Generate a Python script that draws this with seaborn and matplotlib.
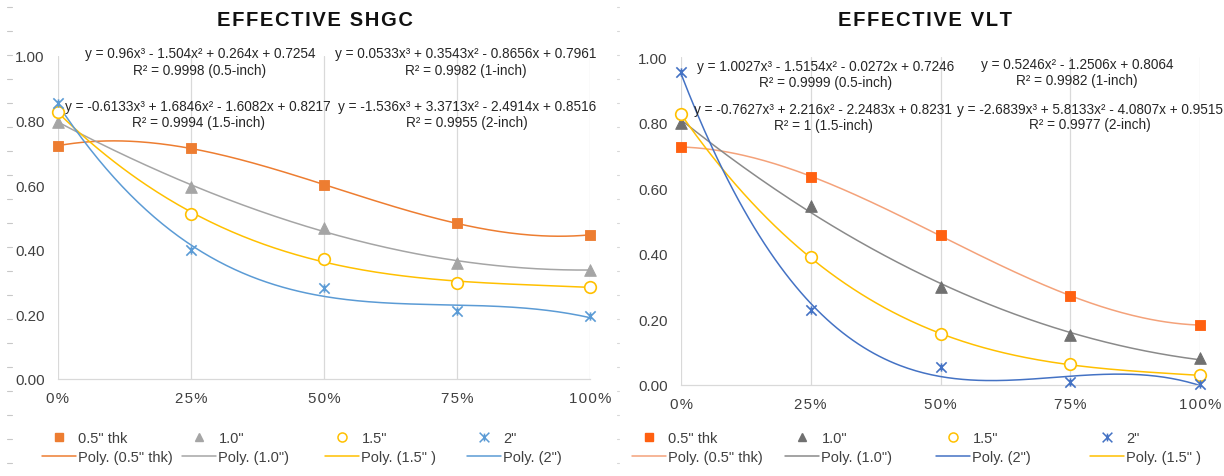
import matplotlib
matplotlib.use('Agg')
import matplotlib.pyplot as plt
from matplotlib.lines import Line2D
from matplotlib.path import Path
import numpy as np
import pandas as pd
import seaborn as sns

sns.set_style('white')
plt.rcParams['font.family'] = ['Liberation Sans', 'DejaVu Sans']

# glazing fraction on the x axis
glass_frac = [0.0, 0.25, 0.5, 0.75, 1.0]
x_tick_labels = ['0%', '25%', '50%', '75%', '100%']
y_ticks = [0.0, 0.2, 0.4, 0.6, 0.8, 1.0]

series_names = ['0.5" thk', '1.0"', '1.5"', '2"']
poly_names = ['Poly. (0.5" thk)', 'Poly. (1.0")', 'Poly. (1.5" )', 'Poly. (2")']

# effective SHGC
shgc_05 = [0.722, 0.715, 0.600, 0.483, 0.446]
shgc_10 = [0.797, 0.595, 0.466, 0.360, 0.339]
shgc_15 = [0.826, 0.512, 0.370, 0.298, 0.285]
shgc_20 = [0.854, 0.398, 0.281, 0.212, 0.194]
shgc_orders = [3, 3, 3, 3]

# effective VLT
vlt_05 = [0.726, 0.635, 0.457, 0.271, 0.183]
vlt_10 = [0.800, 0.546, 0.300, 0.153, 0.082]
vlt_15 = [0.825, 0.389, 0.155, 0.063, 0.029]
vlt_20 = [0.954, 0.230, 0.054, 0.008, 0.003]
vlt_orders = [3, 2, 3, 3]

shgc_eqs = [
    ('y = 0.96x³ - 1.504x² + 0.264x + 0.7254', 'R² = 0.9998 (0.5-inch)'),
    ('y = 0.0533x³ + 0.3543x² - 0.8656x + 0.7961', 'R² = 0.9982 (1-inch)'),
    ('y = -0.6133x³ + 1.6846x² - 1.6082x + 0.8217', 'R² = 0.9994 (1.5-inch)'),
    ('y = -1.536x³ + 3.3713x² - 2.4914x + 0.8516', 'R² = 0.9955 (2-inch)'),
]
vlt_eqs = [
    ('y = 1.0027x³ - 1.5154x² - 0.0272x + 0.7246', 'R² = 0.9999 (0.5-inch)'),
    ('y = 0.5246x² - 1.2506x + 0.8064', 'R² = 0.9982 (1-inch)'),
    ('y = -0.7627x³ + 2.216x² - 2.2483x + 0.8231', 'R² = 1 (1.5-inch)'),
    ('y = -2.6839x³ + 5.8133x² - 4.0807x + 0.9515', 'R² = 0.9977 (2-inch)'),
]

W, H = 1224, 477
fig = plt.figure(figsize=(W / 100, H / 100), dpi=100)

# excel-ish star marker (x with a short vertical bar)
star = Path([(-1, -1), (1, 1), (-1, 1), (1, -1), (0, -0.8), (0, 0.8)],
            [Path.MOVETO, Path.LINETO, Path.MOVETO, Path.LINETO, Path.MOVETO, Path.LINETO])

HS = '\u200a'


def spaced(s):
    return HS.join(list(s))


def px(x, y):
    return x / W, 1 - y / H


def draw_panel(ax, values, orders, mcols, lcols):
    df = pd.DataFrame({'frac': glass_frac * 4,
                       'value': sum(values, []),
                       'series': [n for n in series_names for _ in glass_frac]})
    grid = np.linspace(0, 1, 200)
    fits = []
    for name, vals, order in zip(series_names, values, orders):
        coef = np.polyfit(glass_frac, vals, order)
        fits.append(pd.DataFrame({'frac': grid, 'value': np.polyval(coef, grid), 'series': name}))
    fit_df = pd.concat(fits, ignore_index=True)
    sns.lineplot(data=fit_df, x='frac', y='value', hue='series',
                 palette=dict(zip(series_names, lcols)), legend=False,
                 errorbar=None, lw=1.1, ax=ax, clip_on=False)

    sub = df[df['series'] == series_names[0]]
    sns.scatterplot(data=sub, x='frac', y='value', marker='s', s=60, color=mcols[0],
                    edgecolor=mcols[0], ax=ax, clip_on=False, zorder=5)
    sub = df[df['series'] == series_names[1]]
    sns.scatterplot(data=sub, x='frac', y='value', marker='^', s=70, color=mcols[1],
                    edgecolor=mcols[1], ax=ax, clip_on=False, zorder=5)
    sub = df[df['series'] == series_names[2]]
    sns.scatterplot(data=sub, x='frac', y='value', marker='o', s=70, color='white',
                    edgecolor=mcols[2], linewidth=1.2, ax=ax, clip_on=False, zorder=5)
    sub = df[df['series'] == series_names[3]]
    sns.scatterplot(data=sub, x='frac', y='value', marker=star, s=55, color=mcols[3],
                    edgecolor=mcols[3], linewidth=1.2, ax=ax, clip_on=False, zorder=5)

    ax.set_xlim(0, 1)
    ax.set_ylim(0, 1)
    ax.set_xticks(glass_frac)
    ax.set_xticklabels([spaced(t) for t in x_tick_labels])
    ax.set_yticks(y_ticks)
    ax.set_yticklabels([f'{v:.2f}' for v in y_ticks])
    ax.set_xlabel('')
    ax.set_ylabel('')
    ax.tick_params(axis='both', length=0, labelsize=10.8, labelcolor='#404040')
    ax.tick_params(axis='y', pad=9.5)
    ax.tick_params(axis='x', pad=9)
    ax.grid(axis='x', color='#D9D9D9', lw=0.9)
    ax.grid(axis='y', visible=False)
    for side in ['top', 'left', 'right']:
        ax.spines[side].set_visible(False)
    ax.spines['bottom'].set_color('#D9D9D9')
    ax.spines['bottom'].set_linewidth(0.9)


def marker_handle(kind, color):
    if kind == 'o':
        return Line2D([], [], ls='none', marker='o', ms=6.5, mfc='white', mec=color, mew=1.1)
    if kind == 'star':
        return Line2D([], [], ls='none', marker=star, ms=7, mfc='none', mec=color, mew=1.1)
    return Line2D([], [], ls='none', marker=kind, ms=6, mfc=color, mec=color)


def legend_col(x, mh, ml, lh, ll):
    fig.legend([mh, lh], [ml, ll], loc='upper left', bbox_to_anchor=px(x, 432),
               frameon=False, fontsize=10.5, labelcolor='#404040',
               handlelength=2.35, handletextpad=0.15, borderpad=0,
               borderaxespad=0, labelspacing=0.35)


# ---- left: SHGC ----
ax1 = fig.add_axes([58 / W, 1 - 380 / H, (590 - 58) / W, (380 - 57) / H])
shgc_m = ['#ED7D31', '#A5A5A5', '#FFC000', '#5B9BD5']
shgc_l = ['#ED7D31', '#A5A5A5', '#FFC000', '#5B9BD5']
draw_panel(ax1, [shgc_05, shgc_10, shgc_15, shgc_20], shgc_orders, shgc_m, shgc_l)

# ---- right: VLT ----
ax2 = fig.add_axes([681 / W, 1 - 386 / H, (1200 - 681) / W, (386 - 58) / H])
vlt_m = ['#FF6010', '#707070', '#FFC000', '#4472C4']
vlt_l = ['#F4A27A', '#8A8A8A', '#FFC000', '#4472C4']
draw_panel(ax2, [vlt_05, vlt_10, vlt_15, vlt_20], vlt_orders, vlt_m, vlt_l)

# titles
fig.text(*px(315, 21), spaced('EFFECTIVE SHGC'), ha='center', va='center',
         fontsize=14.5, fontweight='bold', color='#111111')
fig.text(*px(925, 21), spaced('EFFECTIVE VLT'), ha='center', va='center',
         fontsize=14.5, fontweight='bold', color='#111111')

# trendline equations
shgc_pos = [(200, 54, 71), (466, 54, 71), (198, 107, 123), (467, 107, 123)]
vlt_pos = [(826, 67, 83), (1077, 65, 81), (823, 110, 126), (1090, 110, 125)]
for eqs, poss in [(shgc_eqs, shgc_pos), (vlt_eqs, vlt_pos)]:
    for (l1, l2), (cx, y1, y2) in zip(eqs, poss):
        fig.text(*px(cx, y1), l1, ha='center', va='center', fontsize=9.8, color='#262626')
        fig.text(*px(cx, y2), l2, ha='center', va='center', fontsize=9.8, color='#262626')

# legends (one column at a time so the columns keep even spacing)
kinds = ['s', '^', 'o', 'star']
for i, x in enumerate([42, 182, 325, 467]):
    legend_col(x, marker_handle(kinds[i], shgc_m[i]), series_names[i],
               Line2D([], [], color=shgc_l[i], lw=1.1), poly_names[i])
vlt_line_order = [0, 1, 3, 2]
for i, x in enumerate([632, 785, 936, 1090]):
    j = vlt_line_order[i]
    legend_col(x, marker_handle(kinds[i], vlt_m[i]), series_names[i],
               Line2D([], [], color=vlt_l[j], lw=1.1), poly_names[j])

# faint ruler dashes down the left edge of each chart
for k in range(20):
    yy = 1 - (8 + 24 * k) / H
    fig.add_artist(Line2D([7 / W, 12 / W], [yy, yy], color='#C8C8C8', lw=0.8))
    fig.add_artist(Line2D([617 / W, 619 / W], [yy, yy], color='#D8D8D8', lw=0.8))

fig.savefig('out.png', dpi=100)
